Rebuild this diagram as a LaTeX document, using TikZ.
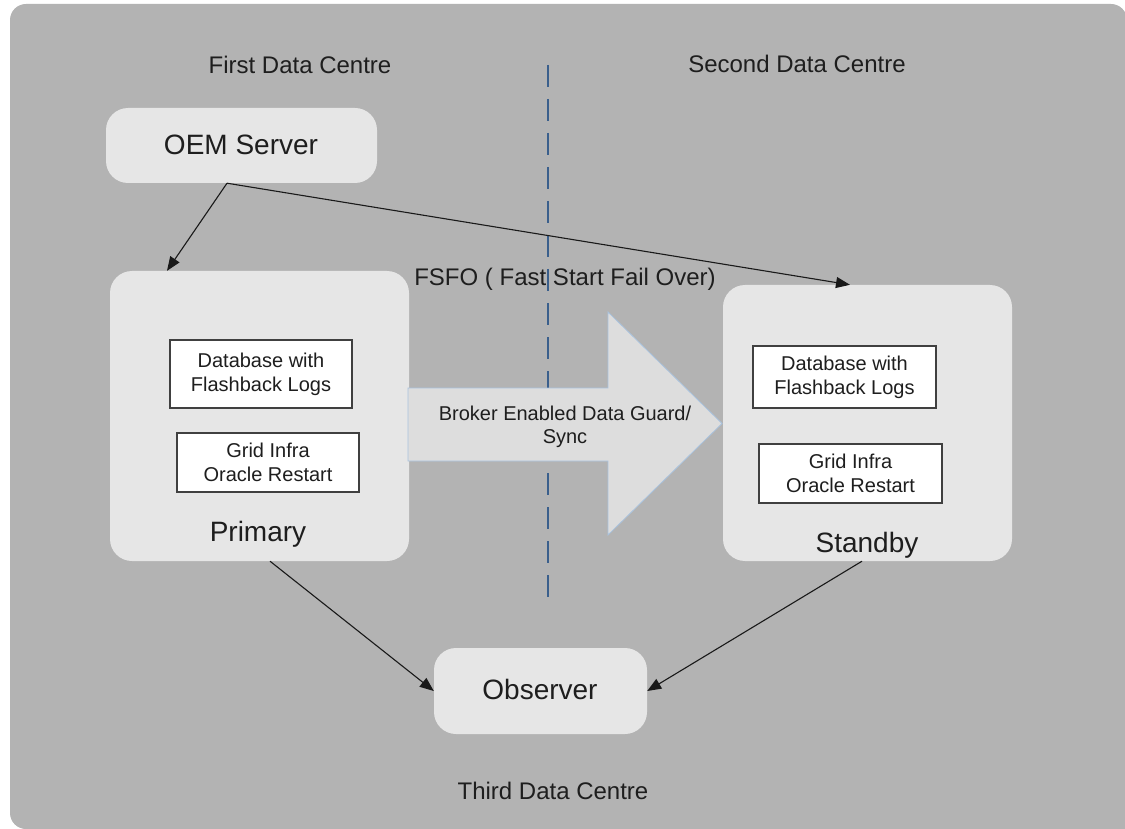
\documentclass[tikz,border=0pt]{standalone}
\usepackage{fontspec}
\setmainfont{Liberation Sans}
\usetikzlibrary{arrows.meta,calc}
\definecolor{bg}{HTML}{B3B3B3}
\definecolor{boxfill}{HTML}{E6E6E6}
\definecolor{arrfill}{HTML}{DDDDDD}
\definecolor{arredge}{HTML}{A8C2DE}
\definecolor{dashblue}{HTML}{3A5F8C}
\definecolor{txt}{HTML}{1E1E1E}
\begin{document}
\begin{tikzpicture}[x=1pt,y=-1pt,
  bigbox/.style={draw=none, fill=boxfill, rounded corners=22pt, inner sep=0pt, text=txt},
  innerbox/.style={draw=black!75, line width=1.3pt, fill=white, inner sep=0pt,
    font=\fontsize{20}{24}\selectfont, align=center, text=txt},
  lab24/.style={font=\fontsize{24}{29}\selectfont, text=txt, inner sep=0pt, anchor=base},
  lab28/.style={font=\fontsize{28}{34}\selectfont, text=txt, inner sep=0pt, anchor=base},
  conn/.style={draw=black!90, line width=1.1pt, -{Triangle[length=14pt,width=11pt]}},
  dividerline/.style={draw=dashblue, line width=1.2pt, dash pattern=on 22pt off 12pt}
]
\useasboundingbox (0,0) rectangle (1125,829);
% background
\fill[bg, rounded corners=16pt] (10,4) rectangle (1127,829);
\fill[bg] (600,400) rectangle (1127,829);

% divider
\coordinate (dtop) at (548,65);
\coordinate (dbot) at (548,607);
\draw[dividerline] (dtop) -- (dbot);

% main boxes
\node[bigbox, minimum width=271pt, minimum height=75pt] (oem) at (241.5,145.5) {};
\node[bigbox, minimum width=299pt, minimum height=290pt] (prim) at (259.5,416) {};
\node[bigbox, minimum width=289pt, minimum height=276pt] (stby) at (867.5,423) {};
\node[bigbox, minimum width=213pt, minimum height=86pt] (obs) at (540.5,691) {};

% inner boxes
\node[innerbox, minimum width=182pt, minimum height=68pt] (pdb) at (261,374) {Database with\\Flashback Logs};
\node[innerbox, minimum width=182pt, minimum height=59pt] (pgrid) at (268,462.5) {Grid Infra\\Oracle Restart};
\node[innerbox, minimum width=183pt, minimum height=62pt] (sdb) at (844.5,377) {Database with\\Flashback Logs};
\node[innerbox, minimum width=183pt, minimum height=59pt] (sgrid) at (850.5,473.5) {Grid Infra\\Oracle Restart};

% big arrow
\filldraw[fill=arrfill, draw=arredge, line width=0.8pt]
  (408,388) -- (608,388) -- (608,312) -- (722,423.5) -- (608,535) -- (608,461) -- (408,461) -- cycle;
\node[font=\fontsize{20}{23}\selectfont, align=center, text=txt, inner sep=0pt] (broker) at (565,427) {Broker Enabled Data Guard/\\Sync};

% labels
\node[lab28] (oemlab) at (241,155) {OEM Server};
\node[lab28] (primlab) at (258,541) {Primary};
\node[lab28] (stbylab) at (867,552) {Standby};
\node[lab28] (obslab) at (540,699) {Observer};
\node[lab24] (first) at (300,74) {First Data Centre};
\node[lab24] (second) at (797,73) {Second Data Centre};
\node[lab24] (third) at (553,799) {Third Data Centre};
\node[lab24] (fsfo) at (565,286) {FSFO ( Fast Start Fail Over)};

% connectors
\draw[conn] ([xshift=-14.5pt]oem.south) -- ([xshift=-92.5pt]prim.north);
\draw[conn] ([xshift=-14.5pt]oem.south) -- ([xshift=-17.5pt]stby.north);
\draw[conn] ([xshift=10.5pt]prim.south) -- (obs.west);
\draw[conn] ([xshift=-5.5pt]stby.south) -- (obs.east);
\end{tikzpicture}
\end{document}
